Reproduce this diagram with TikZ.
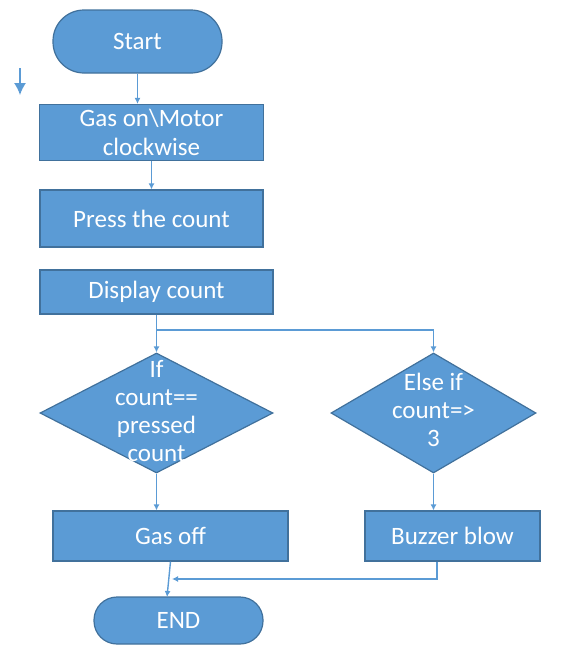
\documentclass[tikz,border=0pt]{standalone}
\usepackage{fontspec}
\setmainfont{Carlito}
\usetikzlibrary{arrows.meta,shapes.geometric}
\definecolor{boxfill}{HTML}{5B9BD5}
\definecolor{boxline}{HTML}{41719C}
\definecolor{conn}{HTML}{5B9BD5}
\tikzset{
  box/.style={draw=boxline, fill=boxfill, line width=1.2pt, text=white, align=center, inner sep=0pt, font=\fontsize{25}{29}\selectfont},
  term/.style={box, rounded corners=31pt},
  dia/.style={shape=diamond, draw=boxline, fill=boxfill, line width=1.2pt, inner sep=0pt},
  dtext/.style={text=white, align=center, inner sep=0pt, font=\fontsize{25}{28}\selectfont},
  conn/.style={draw=conn, line width=1.4pt, -{Latex[length=6pt,width=6pt]}},
  plain/.style={draw=conn, line width=1.4pt}
}
\begin{document}
\begin{tikzpicture}[x=1pt,y=-1pt]
\useasboundingbox (0,0) rectangle (569,645);
\node[term, minimum width=169pt, minimum height=63pt] (start) at (137.5,41.5) {Start};
\node[box, minimum width=224pt, minimum height=56pt] (gason) at (151.5,132.5) {Gas on\textbackslash Motor\\clockwise};
\node[box, minimum width=223pt, minimum height=57pt] (press) at (151.5,218.5) {Press the count};
\node[box, minimum width=233pt, minimum height=44pt] (disp) at (156.5,292) {Display count};
\node[dia, minimum width=233pt, minimum height=120pt] (d1) at (156.5,413) {};
\node[dtext] (d1t) at (156.5,411) {If\\count==\\pressed\\count};
\node[dia, minimum width=205pt, minimum height=120pt] (d2) at (433.5,413) {};
\node[dtext] (d2t) at (433.5,410) {Else if\\count=>\\3};
\node[box, minimum width=235pt, minimum height=50pt] (gasoff) at (170.5,536) {Gas off};
\node[box, minimum width=175pt, minimum height=50pt] (buzz) at (452.5,536) {Buzzer blow};
\node[term, minimum width=169pt, minimum height=47pt, rounded corners=23pt] (end) at (178.5,620.5) {END};
\coordinate (s1) at (20,68);
\coordinate (s2) at (20,95);
\coordinate (branch) at (156.5,330);
\coordinate (endin) at (167,597);
\coordinate (bcorner) at (437,579);
\coordinate (bjoin) at (172,579);
\draw[conn, -{Latex[length=12pt,width=12pt]}] (s1) -- (s2);
\draw[conn] (start.south) -- (start.south |- gason.north);
\draw[conn] (gason.south) -- (press.north);
\draw[conn] (disp.south) -- (d1.north);
\draw[conn] (branch) -| (d2.north);
\draw[conn] (d1.south) -- (d1.south |- gasoff.north);
\draw[conn] (d2.south) -- (d2.south |- buzz.north);
\draw[conn] (gasoff.south) -- (endin);
\draw[conn] (buzz.south -| bcorner) -- (bcorner) -- (bjoin);
\end{tikzpicture}
\end{document}
